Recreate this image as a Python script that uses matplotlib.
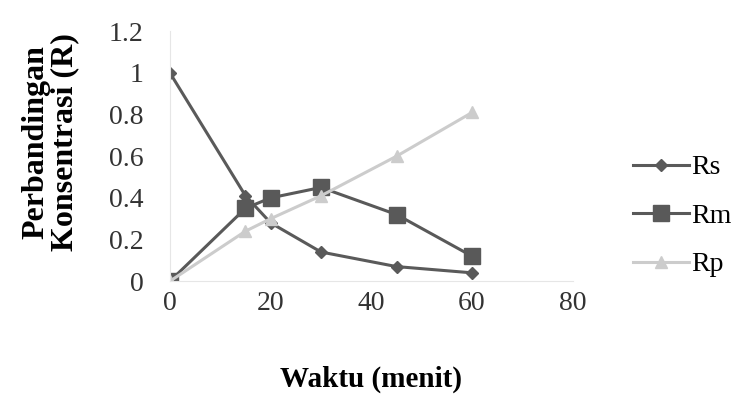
import matplotlib.pyplot as plt

# reaction ratios over time
waktu = [0, 15, 20, 30, 45, 60]
rs = [1.0, 0.41, 0.28, 0.14, 0.07, 0.04]
rm = [0.0, 0.35, 0.40, 0.45, 0.32, 0.12]
rp = [0.0, 0.24, 0.30, 0.41, 0.60, 0.81]

x_ticks = [0, 20, 40, 60, 80]
y_ticks = [0, 0.2, 0.4, 0.6, 0.8, 1, 1.2]

plt.rcParams['font.family'] = ['Liberation Serif', 'DejaVu Serif']

fig = plt.figure(figsize=(7.39, 3.96), dpi=100)
ax = fig.add_axes([0.230, 0.290, 0.545, 0.631])

ax.plot(waktu, rs, color='#5a5a5a', lw=2.2, marker='D', ms=6, label='Rs')
ax.plot(waktu, rm, color='#595959', lw=2.2, marker='s', ms=11, label='Rm')
ax.plot(waktu, rp, color='#cccccc', lw=2.2, marker='^', ms=9, label='Rp')

ax.set_xlim(0, 80)
ax.set_ylim(0, 1.2)
ax.set_xticks(x_ticks)
ax.set_yticks(y_ticks)
ax.set_xticklabels([str(v) for v in x_ticks])
ax.set_yticklabels(['0', '0.2', '0.4', '0.6', '0.8', '1', '1.2'])
ax.tick_params(length=0, labelsize=20, colors='#333333')
ax.tick_params(axis='y', pad=19)
ax.tick_params(axis='x', pad=7)

for side in ['top', 'right']:
    ax.spines[side].set_visible(False)
for side in ['left', 'bottom']:
    ax.spines[side].set_color('#e6e6e6')

ax.set_xlabel('Waktu (menit)', fontsize=21, fontweight='bold')
ax.xaxis.set_label_coords(0.5, -0.34)
ax.set_ylabel('Perbandingan\nKonsentrasi (R)', fontsize=23, fontweight='bold',
              linespacing=1.0)
ax.yaxis.set_label_coords(-0.298, 0.556)
ax.yaxis.label.set_va('center')

ax.legend(loc='center left', bbox_to_anchor=(0.857, 0.4545),
          bbox_transform=fig.transFigure, frameon=False, borderpad=0,
          borderaxespad=0, fontsize=20, handlelength=2.0,
          handletextpad=0.1, labelspacing=0.83)

fig.savefig('out.png', dpi=100)
